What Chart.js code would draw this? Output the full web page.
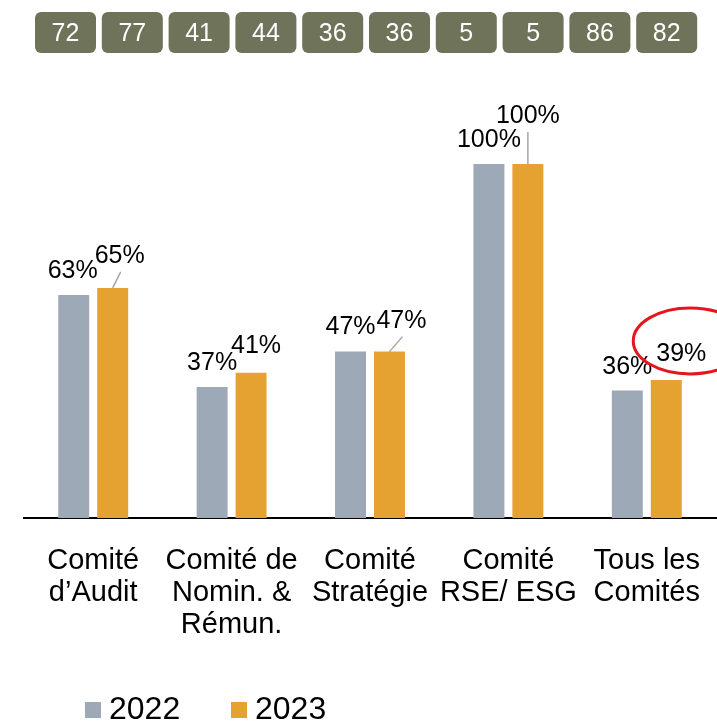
<!DOCTYPE html>
<html>
<head>
<meta charset="utf-8">
<script src="https://cdn.jsdelivr.net/npm/chart.js@4.4.1/dist/chart.umd.min.js"></script>
<style>
  html,body{margin:0;padding:0;background:#fff;}
  #wrap{width:717px;height:721px;}
</style>
</head>
<body>
<div id="wrap"><canvas id="c" width="717" height="721"></canvas></div>
<script>
// données du graphique
var categories=[["Comité","d’Audit"],["Comité de","Nomin. &","Rémun."],["Comité","Stratégie"],["Comité","RSE/ ESG"],["Tous les","Comités"]]
var series_names=["2022","2023"]
var values_2022=[63,37,47,100,36]
var values_2023=[65,41,47,100,39]
var badges=[72,77,41,44,36,36,5,5,86,82]   // bandeau du haut

var color_2022="#9da9b7"
var color_2023="#e5a230"
var badge_color="#6f7359"
var font_family="'Liberation Sans', Arial, sans-serif"

// decalage des etiquettes (dx, hauteur au dessus de la barre, trait de rappel)
var label_dx=[[-1,0,0,0,0],[7,5,12,0,15]]
var label_dy=[[17,17,18,17,17],[25,20,24,41,19]]
var label_leader=[[false,false,false,false,false],[true,false,true,true,false]]
var highlight={dataset:1,index:4}

const labelsPlugin={
    id:'valueLabels',
    afterDatasetsDraw:(chart)=>{
        const {ctx}=chart
        ctx.save()
        ctx.font="25px "+font_family
        ctx.textAlign="center"
        ctx.textBaseline="alphabetic"
        chart.data.datasets.forEach((ds,d)=>{
            chart.getDatasetMeta(d).data.forEach((bar,i)=>{
                var x=bar.x+label_dx[d][i]
                var y=bar.y-label_dy[d][i]
                if(label_leader[d][i]){
                    ctx.strokeStyle="#a6a6a6"
                    ctx.lineWidth=1.5
                    ctx.beginPath()
                    ctx.moveTo(bar.x,bar.y)
                    ctx.lineTo(x+(label_dx[d][i]>1?1:0),y+9)
                    ctx.stroke()
                }
                ctx.fillStyle="#000"
                ctx.fillText(ds.data[i]+"%",x,y)
            })
        })
        // cercle rouge autour de la derniere valeur
        var hb=chart.getDatasetMeta(highlight.dataset).data[highlight.index]
        ctx.strokeStyle="#e8141b"
        ctx.lineWidth=3
        ctx.beginPath()
        ctx.ellipse(hb.x+24,hb.y-39,57,33,0,0,Math.PI*2)
        ctx.stroke()
        ctx.restore()
    }
}

const badgesPlugin={
    id:'badges',
    afterDraw:(chart)=>{
        const {ctx}=chart
        ctx.save()
        ctx.font="25px "+font_family
        ctx.textAlign="center"
        ctx.textBaseline="middle"
        for(var i=0;i<badges.length;i++){
            var x=35+i*66.8
            ctx.fillStyle=badge_color
            ctx.beginPath()
            ctx.roundRect(x,12,61,41,6)
            ctx.fill()
            ctx.fillStyle="#fff"
            ctx.fillText(badges[i],x+30.5,34)
        }
        ctx.restore()
    }
}

const legendPlugin={
    id:'customLegend',
    afterDraw:(chart)=>{
        const {ctx}=chart
        ctx.save()
        ctx.font="32px "+font_family
        ctx.textBaseline="alphabetic"
        ctx.textAlign="left"
        var x=chart.chartArea.left+61
        chart.data.datasets.forEach((ds)=>{
            ctx.fillStyle=ds.backgroundColor
            ctx.fillRect(x,702,16,16)
            ctx.fillStyle="#000"
            ctx.fillText(ds.label,x+24,719)
            x+=146
        })
        ctx.restore()
    }
}

var chart=new Chart(document.getElementById("c"),{
    type:'bar',
    data:{
        labels:categories,
        datasets:[
            {label:series_names[0],data:values_2022,backgroundColor:color_2022},
            {label:series_names[1],data:values_2023,backgroundColor:color_2023}
        ]
    },
    options:{
        responsive:false,
        animation:false,
        datasets:{bar:{categoryPercentage:0.563,barPercentage:0.795}},
        layout:{padding:{left:24,right:1,top:164,bottom:53}},
        plugins:{legend:{display:false},tooltip:{enabled:false}},
        scales:{
            y:{display:false,min:0,max:100},
            x:{
                grid:{display:false,drawTicks:false},
                border:{display:true,color:"#000",width:2},
                ticks:{color:"#000",padding:27,maxRotation:0,autoSkip:false,
                    font:{family:font_family,size:29,lineHeight:"32px"}},
                afterFit:(scale)=>{ scale.paddingLeft=0; scale.paddingRight=0 }
            }
        }
    },
    plugins:[labelsPlugin,badgesPlugin,legendPlugin]
})
</script>
</body>
</html>
